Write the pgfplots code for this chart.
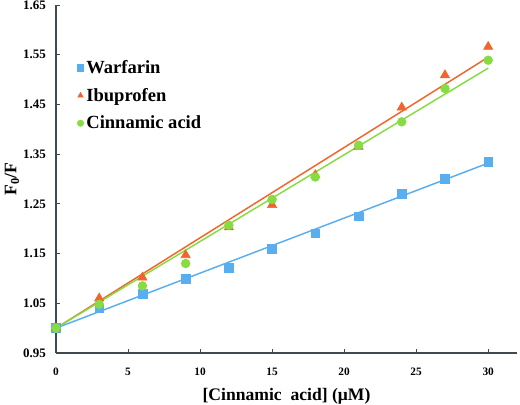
\documentclass[border=0pt]{standalone}
\usepackage{fontspec}
\setmainfont{Liberation Serif}
\usepackage{pgfplots}
\pgfplotsset{compat=1.18}
\definecolor{cblue}{HTML}{58AEEE}
\definecolor{corange}{HTML}{F2652A}
\definecolor{cgreen}{HTML}{86DC40}
\definecolor{axgray}{HTML}{404850}
\begin{document}
\begin{tikzpicture}
\begin{axis}[
  scale only axis,
  width=345.75pt, height=261pt,
  xmin=0, xmax=32, ymin=0.95, ymax=1.65,
  axis lines=left,
  axis line style={axgray, line width=0.8pt, -},
  xtick={0,5,10,15,20,25,30},
  ytick={0.95,1.05,1.15,1.25,1.35,1.45,1.55,1.65},
  tick align=inside,
  major tick length=3pt,
  tick style={axgray, line width=0.6pt},
  /pgf/number format/assume math mode=true,
  /pgf/number format/fixed,
  /pgf/number format/fixed zerofill,
  yticklabel style={/pgf/number format/precision=2, font=\fontsize{9.75}{11}\selectfont\bfseries, xshift=-4pt},
  xticklabel style={/pgf/number format/precision=0, /pgf/number format/fixed zerofill=false, font=\fontsize{8.5}{10}\selectfont\bfseries, yshift=-7.5pt},
  xlabel={\textbf{[Cinnamic\ \ acid] (μM)}},
  ylabel={\textbf{F\textsubscript{0}/F}},
  xlabel style={font=\fontsize{13.2}{15}\selectfont, at={(axis description cs:0.5,0)}, anchor=north, yshift=-23pt},
  ylabel style={font=\fontsize{13.2}{15}\selectfont, at={(axis description cs:0,0.5)}, anchor=south, yshift=24pt},
  legend style={draw=none, fill=none, at={(axis description cs:0.037,0.857)}, anchor=north west,
     font=\fontsize{13.9}{16}\selectfont\bfseries, row sep=5.5pt, /tikz/every even column/.append style={column sep=2pt}},
  legend image post style={mark size=2.4pt},
  legend cell align=left,
  clip=false,
]
% trend lines
\addplot[cblue, line width=1.1pt, forget plot] coordinates {(0,1.000) (30,1.332)};
\addplot[corange, line width=1.1pt, forget plot] coordinates {(0,1.000) (30,1.545)};
\addplot[cgreen, line width=1.1pt, forget plot] coordinates {(0,1.000) (30,1.523)};
% data
\addplot[only marks, mark=square*, mark size=3.3pt, cblue, mark options={draw=cblue, fill=cblue}] coordinates {
 (0,1.000) (3,1.040) (6,1.069) (9,1.100) (12,1.122) (15,1.160) (18,1.191) (21,1.225) (24,1.270) (27,1.300) (30,1.334)};
\addlegendentry{Warfarin}
\addplot[only marks, mark=triangle*, mark size=4pt, corange, mark options={draw=corange, fill=corange}] coordinates {
 (0,1.000) (3,1.060) (6,1.102) (9,1.147) (12,1.203) (15,1.248) (18,1.308) (21,1.365) (24,1.444) (27,1.509) (30,1.566)};
\addlegendentry{Ibuprofen}
\addplot[only marks, mark=*, mark size=3.3pt, cgreen, mark options={draw=cgreen, fill=cgreen}] coordinates {
 (0,1.000) (3,1.048) (6,1.085) (9,1.130) (12,1.207) (15,1.259) (18,1.304) (21,1.368) (24,1.415) (27,1.482) (30,1.539)};
\addlegendentry{Cinnamic acid}
\end{axis}
\pgfresetboundingbox
\path (-42pt,-38.25pt) rectangle (348pt,264.75pt);
\end{tikzpicture}
\end{document}
